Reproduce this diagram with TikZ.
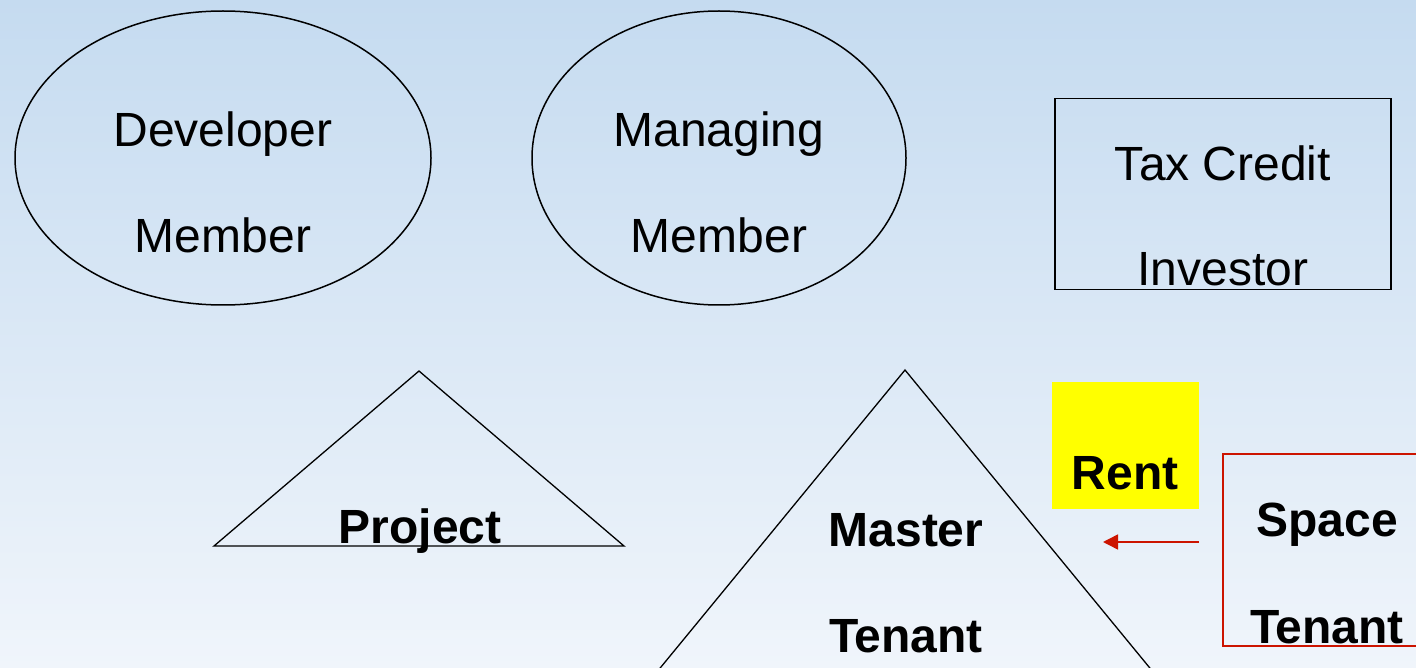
\documentclass[tikz,border=0pt]{standalone}
\usepackage{fontspec}
\setmainfont{Liberation Sans}
\usetikzlibrary{shapes.geometric,arrows.meta}
\definecolor{bgtop}{RGB}{197,219,240}
\definecolor{bgbot}{RGB}{240,245,251}
\definecolor{arrowred}{RGB}{204,20,0}
\definecolor{rentyellow}{RGB}{255,255,0}
\begin{document}
\begin{tikzpicture}[x=1pt,y=-1pt,
  outline/.style={draw=black,line width=1.5pt},
  reg/.style={font=\fontsize{48}{58}\selectfont,anchor=base,inner sep=0pt},
  bld/.style={font=\fontsize{48}{58}\selectfont\bfseries,anchor=base,inner sep=0pt},
  shapenode/.style={outline,inner sep=0pt},
]
\useasboundingbox (0,0) rectangle (1416,668);
\shade[top color=bgtop,bottom color=bgbot] (0,0) rectangle (1416,668);
\clip (0,0) rectangle (1416,668);
% top row
\node[shapenode,ellipse,minimum width=416pt,minimum height=294pt] (dev) at (223,158) {};
\node[shapenode,ellipse,minimum width=374pt,minimum height=294pt] (mgr) at (719,158) {};
\node[shapenode,rectangle,minimum width=336pt,minimum height=191pt] (tci) at (1223,194) {};
\node[reg] (devA) at (223,147) {Developer};
\node[reg] (devB) at (223,253) {Member};
\node[reg] (mgrA) at (719,147) {Managing};
\node[reg] (mgrB) at (719,253) {Member};
\node[reg] (tciA) at (1223,181) {Tax Credit};
\node[reg] (tciB) at (1223,286) {Investor};
% triangles
\draw[outline,line width=1.3pt,line join=miter] (419,371) -- (624,546) -- (214,546) -- cycle;
\draw[outline,line width=1.3pt,line join=miter] (905,370) -- (1232,768) -- (578,768) -- cycle;
\node[bld] (proj) at (420,543) {Project};
\node[bld] (mtA) at (906,546) {Master};
\node[bld] (mtB) at (906,652) {Tenant};
% rent
\node[fill=rentyellow,minimum width=147pt,minimum height=127pt,inner sep=0pt] (rentbox) at (1125.5,445.5) {};
\node[bld] (rent) at (1125,489) {Rent};
% space tenant
\draw[draw=arrowred,line width=1.5pt] (1440,454) -- (1223,454) -- (1223,646) -- (1440,646);
\node[bld] (stA) at (1327,536) {Space};
\node[bld] (stB) at (1327,643) {Tenant};
\coordinate (arrS) at (1199,542);
\coordinate (arrE) at (1103,542);
\draw[arrowred,line width=1.5pt,-{Triangle[length=15pt,width=15pt]}] (arrS) -- (arrE);
\end{tikzpicture}
\end{document}
